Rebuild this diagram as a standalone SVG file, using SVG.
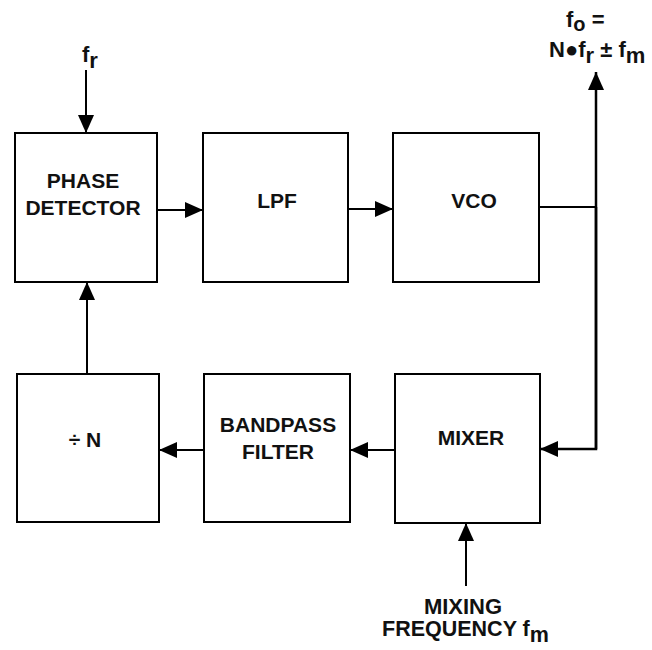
<svg xmlns="http://www.w3.org/2000/svg" width="652" height="650" viewBox="0 0 652 650">
<defs>
<marker id="ah" viewBox="0 0 18 16" refX="18" refY="8" markerWidth="18" markerHeight="16" markerUnits="userSpaceOnUse" orient="auto">
<path d="M0,0 L18,8 L0,16 Z" fill="#000"/>
</marker>
</defs>
<style>
.box{fill:#fff;stroke:#000;stroke-width:2}
.lbl{font-family:"Liberation Sans",Arial,sans-serif;font-size:21px;font-weight:bold;fill:#111;text-anchor:middle}
.sm{font-family:"Liberation Sans",Arial,sans-serif;font-size:22px;font-weight:bold;fill:#111}
.wire{fill:none;stroke:#000;stroke-width:2}
.arr{fill:none;stroke:#000;stroke-width:2;marker-end:url(#ah)}
</style>
<rect width="652" height="650" fill="#fff"/>
<g id="connectors">
<line class="arr" x1="86" y1="70" x2="86" y2="133"/>
<line class="arr" x1="157" y1="210" x2="203" y2="210"/>
<line class="arr" x1="348" y1="209" x2="393" y2="209"/>
<polyline class="wire" points="539,207 596,207"/>
<line class="arr" x1="596" y1="449" x2="596" y2="72" style="stroke-width:2.5"/>
<polyline class="arr" points="596,207 596,449 540,449" style="stroke-width:2.5"/>
<line class="arr" x1="395" y1="450" x2="350" y2="450"/>
<line class="arr" x1="204" y1="450" x2="159" y2="450"/>
<line class="arr" x1="87" y1="374" x2="87" y2="282"/>
<line class="arr" x1="466" y1="586" x2="466" y2="523"/>
</g>
<g id="phase-detector">
<rect class="box" x="15" y="133" width="142" height="149"/>
<text class="lbl" x="83" y="188">PHASE</text>
<text class="lbl" x="83" y="215">DETECTOR</text>
</g>
<g id="lpf">
<rect class="box" x="203" y="133" width="145" height="149"/>
<text class="lbl" x="277" y="208">LPF</text>
</g>
<g id="vco">
<rect class="box" x="393" y="133" width="146" height="149"/>
<text class="lbl" x="474" y="208">VCO</text>
</g>
<g id="divider">
<rect class="box" x="17" y="374" width="142" height="148"/>
<text class="lbl" x="85" y="447">÷ N</text>
</g>
<g id="bandpass-filter">
<rect class="box" x="204" y="374" width="146" height="148"/>
<text class="lbl" x="278" y="432">BANDPASS</text>
<text class="lbl" x="278" y="459">FILTER</text>
</g>
<g id="mixer">
<rect class="box" x="395" y="374" width="145" height="149"/>
<text class="lbl" x="471" y="445">MIXER</text>
</g>
<g id="fr-input">
<text class="sm" x="82" y="62">f<tspan dy="6">r</tspan></text>
</g>
<g id="fo-output">
<text class="sm" x="566" y="27">f<tspan dy="4" style="font-size:20px">o</tspan><tspan dy="-4"> =</tspan></text>
<text class="sm" x="549" y="57">N●f<tspan dy="6">r</tspan><tspan dy="-6"> ± f</tspan><tspan dy="6">m</tspan></text>
</g>
<g id="mixing-input">
<text class="lbl" x="463" y="614" style="font-size:22px">MIXING</text>
<text class="sm" x="382" y="636" style="font-size:21.5px">FREQUENCY f<tspan dy="6">m</tspan></text>
</g>
</svg>
